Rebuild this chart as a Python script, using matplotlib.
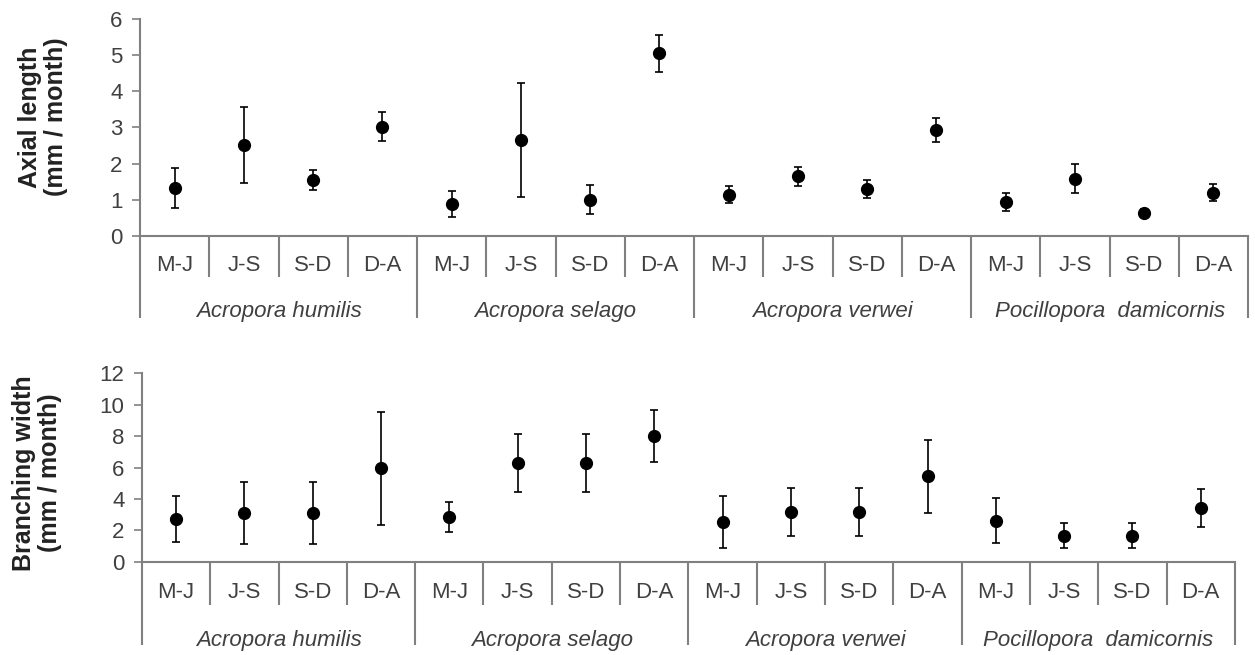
import matplotlib

matplotlib.use("Agg")
import matplotlib.pyplot as plt
import matplotlib.transforms as mtransforms

SPECIES = ["Acropora humilis", "Acropora selago", "Acropora verwei", "Pocillopora  damicornis"]
PERIODS = ["M-J", "J-S", "S-D", "D-A"]

# axial length (mm / month), mean and error, period order within each species
AXIAL_MEAN = [1.32, 2.52, 1.55, 3.02,
              0.88, 2.65, 1.00, 5.05,
              1.14, 1.65, 1.30, 2.93,
              0.93, 1.58, 0.64, 1.20]
AXIAL_ERR = [0.55, 1.05, 0.27, 0.40,
             0.36, 1.57, 0.40, 0.52,
             0.23, 0.27, 0.24, 0.34,
             0.25, 0.40, 0.10, 0.23]

# branching width (mm / month)
WIDTH_MEAN = [2.73, 3.10, 3.10, 5.95,
              2.87, 6.30, 6.30, 8.00,
              2.52, 3.15, 3.15, 5.45,
              2.63, 1.68, 1.68, 3.45]
WIDTH_ERR = [1.47, 1.97, 1.97, 3.60,
             0.94, 1.83, 1.83, 1.64,
             1.65, 1.53, 1.53, 2.31,
             1.41, 0.80, 0.80, 1.20]

LINE = "#808080"
TEXT = "#404040"

plt.rcParams["font.family"] = ["Liberation Sans", "DejaVu Sans"]

fig = plt.figure(figsize=(12.55, 6.55), dpi=100)
ax1 = fig.add_axes([0.1116, 0.6397, 0.8829, 0.3313])
ax2 = fig.add_axes([0.1131, 0.1420, 0.8709, 0.2885])


def panel(ax, mean, err, ymax, ystep, ylabel, label_xy, seps, label_y):
    cat_sep, grp_sep = seps
    month_y, species_y = label_y
    n = len(mean)
    x = [i + 0.5 for i in range(n)]
    ax.errorbar(x, mean, yerr=err, fmt="o", color="black", ms=8.5,
                ecolor="black", elinewidth=1.2, capsize=3, capthick=1.2, zorder=3)
    ax.set_xlim(0, n)
    ax.set_ylim(0, ymax)
    ax.set_yticks(range(0, ymax + 1, ystep))
    ax.set_xticks([])
    for s in ("top", "right"):
        ax.spines[s].set_visible(False)
    for s in ("left", "bottom"):
        ax.spines[s].set_color(LINE)
        ax.spines[s].set_linewidth(1.5)
    ax.tick_params(axis="y", direction="out", length=5.5, width=1.2, color=LINE,
                   labelsize=16, labelcolor=TEXT, pad=7)
    ax.set_ylabel(ylabel, fontsize=18, fontweight="bold", color="#222222",
                  linespacing=1.1, va="center", ha="center")
    ax.yaxis.set_label_coords(*label_xy)

    trans = mtransforms.blended_transform_factory(ax.transData, ax.transAxes)
    for i in range(n + 1):
        low = grp_sep if i % len(PERIODS) == 0 else cat_sep
        ax.plot([i, i], [0, low], color=LINE, lw=1.5, transform=trans,
                clip_on=False, solid_capstyle="butt")
    for i in range(n):
        ax.text(i + 0.5, month_y, PERIODS[i % len(PERIODS)], transform=trans,
                ha="center", va="center", fontsize=16, color=TEXT)
    for g, name in enumerate(SPECIES):
        ax.text(g * len(PERIODS) + len(PERIODS) / 2, species_y, name,
                transform=trans, ha="center", va="center", fontsize=16,
                style="italic", color=TEXT)


panel(ax1, AXIAL_MEAN, AXIAL_ERR, 6, 1, "Axial length\n(mm / month)",
      (-0.088, 0.548), (-0.189, -0.378), (-0.134, -0.35))
panel(ax2, WIDTH_MEAN, WIDTH_ERR, 12, 2, "Branching width\n(mm / month)",
      (-0.096, 0.47), (-0.228, -0.44), (-0.159, -0.413))

fig.savefig("out.png", dpi=100)
